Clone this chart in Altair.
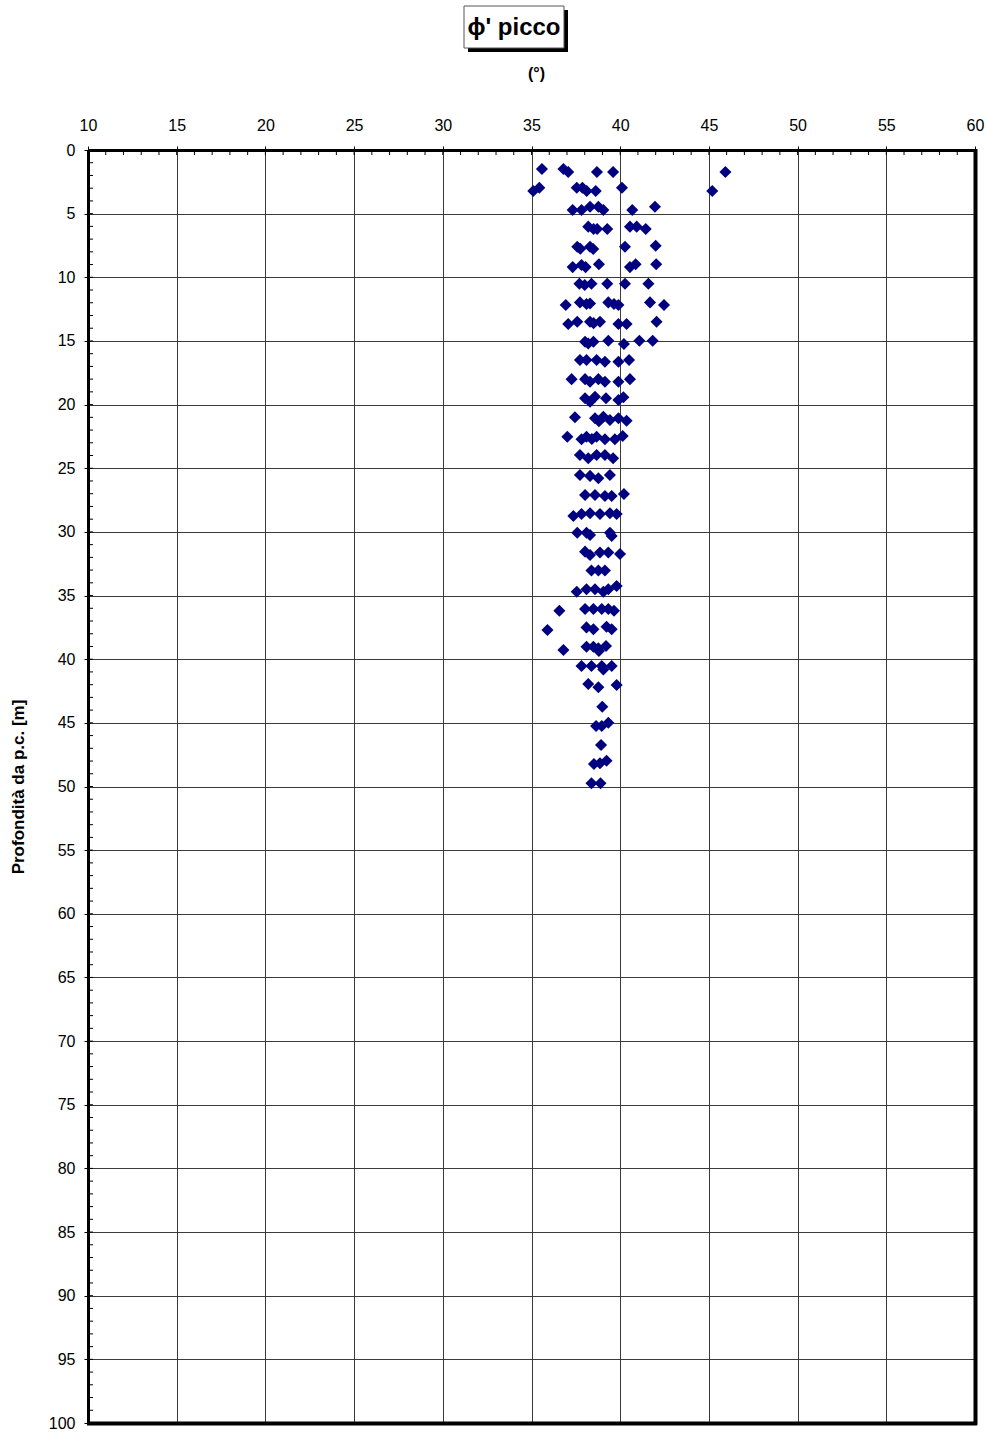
import altair as alt
import pandas as pd

# phi' picco values (degrees) and depth (m)
phi = [
    35.59, 36.8, 37.07, 38.69, 39.6, 45.93,
    35.1, 35.44, 37.55, 37.87, 38.11, 38.62, 40.1, 45.19,
    37.32, 37.82, 38.3, 38.77, 39.05, 40.68, 41.96,
    38.2, 38.5, 38.7, 39.27, 40.55, 40.93, 41.44,
    37.58, 37.75, 38.3, 38.48, 40.27, 42.0,
    37.32, 37.82, 38.05, 38.8, 40.55, 40.87, 42.03,
    37.7, 38.0, 38.38, 39.27, 40.27, 41.59,
    36.93, 37.73, 38.1, 38.3, 39.33, 39.65, 39.9, 41.68, 42.47,
    37.07, 37.58, 38.3, 38.5, 38.86, 39.9, 40.36, 42.05,
    38.02, 38.2, 38.49, 39.33, 40.21, 41.08, 41.83,
    37.73, 38.1, 38.67, 39.14, 39.9, 40.5,
    37.26, 38.02, 38.3, 38.77, 39.14, 39.9, 40.55,
    38.02, 38.3, 38.58, 39.2, 39.9, 40.18,
    37.45, 38.58, 38.8, 39.05, 39.42, 39.9, 40.36,
    37.02, 37.82, 38.1, 38.4, 38.67, 39.14, 39.7, 40.14,
    37.73, 38.2, 38.67, 39.14, 39.6,
    37.73, 38.3, 38.77, 39.42,
    38.02, 38.58, 39.14, 39.52, 40.21,
    37.36, 37.82, 38.3, 38.86, 39.42, 39.8,
    37.58, 38.1, 38.3, 39.42, 39.52,
    38.02, 38.3, 38.86, 39.33, 39.99,
    38.38, 38.77, 39.14,
    37.55, 38.1, 38.58, 39.05, 39.33, 39.8,
    36.57, 38.02, 38.49, 38.96, 39.33, 39.65,
    35.9, 38.1, 38.49, 39.23, 39.52,
    36.8, 38.1, 38.49, 38.77, 38.8, 39.2,
    37.82, 38.38, 38.96, 39.05, 39.52,
    38.2, 38.77, 39.8,
    38.99,
    38.64, 38.96, 39.33,
    38.92,
    38.52, 38.86, 39.23,
    38.38, 38.89,
]
depth = [
    1.49, 1.49, 1.73, 1.73, 1.73, 1.73,
    3.22, 2.96, 2.96, 2.96, 3.22, 3.22, 2.96, 3.22,
    4.71, 4.71, 4.45, 4.45, 4.71, 4.71, 4.45,
    6.02, 6.2, 6.2, 6.2, 6.02, 6.02, 6.2,
    7.6, 7.75, 7.6, 7.78, 7.6, 7.52,
    9.2, 9.03, 9.2, 8.98, 9.2, 8.98, 8.98,
    10.5, 10.6, 10.5, 10.5, 10.5, 10.5,
    12.18, 11.97, 12.1, 12.05, 11.97, 12.1, 12.18, 11.97, 12.18,
    13.67, 13.49, 13.49, 13.6, 13.49, 13.67, 13.67, 13.49,
    15.06, 15.2, 15.06, 14.98, 15.24, 14.98, 14.98,
    16.5, 16.5, 16.5, 16.63, 16.63, 16.5,
    18.0, 18.0, 18.2, 18.0, 18.2, 18.2, 18.0,
    19.5, 19.77, 19.38, 19.5, 19.64, 19.43,
    21.0, 21.08, 21.3, 20.95, 21.21, 21.08, 21.27,
    22.52, 22.73, 22.52, 22.7, 22.52, 22.73, 22.73, 22.47,
    23.96, 24.22, 23.96, 23.96, 24.22,
    25.53, 25.6, 25.79, 25.53,
    27.1, 27.1, 27.18, 27.18, 27.02,
    28.75, 28.6, 28.53, 28.6, 28.53, 28.6,
    30.06, 30.06, 30.24, 30.06, 30.32,
    31.55, 31.81, 31.62, 31.62, 31.73,
    33.04, 33.04, 33.04,
    34.7, 34.5, 34.5, 34.7, 34.5, 34.25,
    36.2, 36.06, 36.06, 36.06, 36.06, 36.2,
    37.7, 37.5, 37.65, 37.45, 37.65,
    39.28, 39.02, 39.02, 39.15, 39.35, 38.96,
    40.53, 40.53, 40.53, 40.8, 40.53,
    41.95, 42.2, 42.03,
    43.73,
    45.25, 45.25, 44.99,
    46.74,
    48.23, 48.17, 47.97,
    49.75, 49.75,
]

x_ticks = list(range(10, 61, 5))
y_ticks = list(range(0, 101, 5))
x_minor = list(range(10, 61, 1))
y_minor = list(range(0, 101, 1))

W, H = 887, 1273
FONT = "Liberation Sans"

df = pd.DataFrame({"phi": phi, "depth": depth})
xs = alt.Scale(domain=[10, 60], nice=False, zero=False)
ys = alt.Scale(domain=[0, 100], nice=False, zero=False, reverse=True)

points = alt.Chart(df).mark_point(
    shape="diamond", filled=True, size=145, color="#000080", opacity=1
).encode(
    x=alt.X("phi:Q", scale=xs, axis=alt.Axis(
        orient="top", values=x_ticks, title="(°)", labelPadding=13,
        titleY=-77, titleX=448, titleFontSize=16)),
    y=alt.Y("depth:Q", scale=ys, axis=alt.Axis(
        orient="left", values=y_ticks, title="Profondità da p.c. [m]",
        labelPadding=9, titleAngle=270, titleX=-70, titleY=H / 2,
        titleFontSize=17)),
)

minor_x = alt.Chart(pd.DataFrame({"phi": x_minor})).mark_rule(
    color="black", strokeWidth=1
).encode(x=alt.X("phi:Q", scale=xs), y=alt.value(0), y2=alt.value(5))

minor_y = alt.Chart(pd.DataFrame({"depth": y_minor})).mark_rule(
    color="black", strokeWidth=1
).encode(y=alt.Y("depth:Q", scale=ys), x=alt.value(0), x2=alt.value(5))

one = pd.DataFrame({"a": [0]})
right_border = alt.Chart(one).mark_rule(color="black", strokeWidth=4).encode(
    x=alt.value(W + 0.5), y=alt.value(-1), y2=alt.value(H + 2))
bottom_border = alt.Chart(one).mark_rule(color="black", strokeWidth=4).encode(
    y=alt.value(H + 0.5), x=alt.value(-1), x2=alt.value(W + 2))

shadow = alt.Chart(one).mark_rect(color="black").encode(
    x=alt.value(380), x2=alt.value(480), y=alt.value(-140), y2=alt.value(-98))
box = alt.Chart(one).mark_rect(fill="white", stroke="#555555", strokeWidth=1).encode(
    x=alt.value(376), x2=alt.value(476), y=alt.value(-144), y2=alt.value(-102))
title = alt.Chart(one).mark_text(
    font=FONT, fontSize=24, fontWeight="bold", color="black",
    align="center", baseline="middle"
).encode(x=alt.value(426), y=alt.value(-122), text=alt.value("ϕ' picco"))

chart = alt.layer(
    points, minor_x, minor_y, right_border, bottom_border, shadow, box, title
).properties(
    width=W, height=H,
    padding={"left": 88, "top": 150, "right": 12, "bottom": 9},
    autosize=alt.AutoSizeParams(type="none"),
).configure_view(stroke=None).configure(background="white").configure_axis(
    grid=True, gridColor="#3a3a3a", gridWidth=1, gridOpacity=1,
    domainColor="black", domainWidth=3, tickColor="black", tickSize=4,
    labelFontSize=16, labelColor="black", labelFont=FONT, labelFlush=False,
    labelOverlap=False, titleFont=FONT, titleFontWeight="bold",
    titleColor="black", titleBaseline="middle", titleAlign="center",
)

chart.save("out.html", embed_options={"renderer": "svg", "actions": False})
